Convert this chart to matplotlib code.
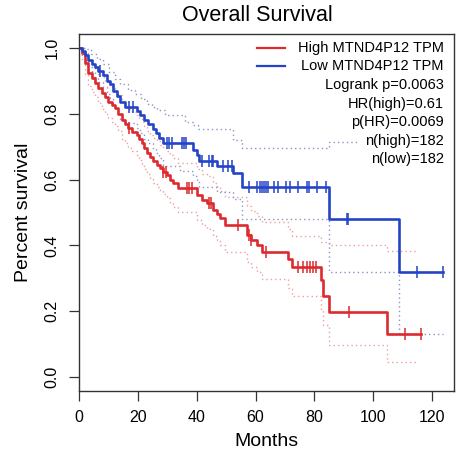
import numpy as np
import matplotlib
matplotlib.use("Agg")
import matplotlib.pyplot as plt

plt.rcParams['font.family'] = ['Liberation Sans', 'DejaVu Sans']

# ---- data ----
low_t = [0, 1.0, 2.0, 3.0, 4.2, 5.4, 6.5, 8.0, 9.3, 10.5, 11.5, 13, 14, 15.5, 19.5, 20.5, 22.0,
         23.5, 25, 26, 27, 28.6, 38.8, 40.0, 40.9, 46.8, 52.5, 55.3, 85.1, 109]
low_s = [1.0, 0.989, 0.978, 0.962, 0.951, 0.94, 0.929, 0.918, 0.90, 0.89, 0.868, 0.852, 0.835,
         0.821, 0.808, 0.795, 0.78, 0.768, 0.752, 0.74, 0.726, 0.71, 0.69, 0.674, 0.656, 0.641,
         0.621, 0.576, 0.479, 0.32]
low_end = 124
low_cens = [7, 16.9, 18.4, 29.8, 30.6, 31.5, 34.9, 35.7, 36.3, 41.7, 44.3, 45.1, 45.6, 49, 50.7,
            51.9, 57.8, 60.5, 61.5, 62.2, 62.9, 63.6, 64.3, 66.3, 67.5, 70.5, 71.7, 74.5, 77.5,
            78.3, 81, 84, 91, 91.6, 114.9, 124]

low_up_t = [0, 2, 4, 6, 8, 10, 12, 14, 16.7, 19, 21, 23, 24.6, 26.5, 29.2, 36, 38.8, 40.5, 52.4,
            55.3, 85.1]
low_up_s = [1.0, 0.995, 0.98, 0.965, 0.95, 0.925, 0.905, 0.89, 0.872, 0.86, 0.845, 0.83, 0.821,
            0.81, 0.795, 0.775, 0.765, 0.752, 0.72, 0.697, 0.715]
low_up_end = 94.5

low_lo_t = [0, 1, 2, 3, 4.2, 5.4, 6.5, 8, 9.3, 10.5, 11.5, 13, 14, 15.5, 19.5, 20.5, 22, 23.5,
            25, 26, 27, 28.6, 34.3, 38.8, 40, 40.9, 46.8, 52.5, 55.3, 85.1, 109]
low_lo_s = [1.0, 0.978, 0.962, 0.94, 0.925, 0.91, 0.895, 0.88, 0.86, 0.846, 0.822, 0.804, 0.785,
            0.77, 0.755, 0.74, 0.724, 0.71, 0.692, 0.68, 0.664, 0.64, 0.625, 0.612, 0.595,
            0.578, 0.562, 0.54, 0.479, 0.32, 0.13]
low_lo_end = 124

high_t = [0, 0.8, 1.9, 3.1, 4.2, 5.3, 6.5, 7.6, 8.8, 9.9, 11, 12.2, 13.3, 14.4, 15.6, 16.7, 18,
          19.5, 20.3, 21.2, 22.0, 22.9, 24, 25.2, 26.5, 27.5, 28.5, 29.8, 30.9, 32, 33.7, 40,
          41.7, 43.4, 45.6, 46.8, 47.9, 49.6, 57.2, 58.3, 60.4, 62.1, 71.2, 72.3, 82.2, 83.1,
          85.1, 104.9]
high_s = [1.0, 0.984, 0.953, 0.922, 0.907, 0.892, 0.877, 0.862, 0.85, 0.836, 0.826, 0.816, 0.8,
          0.78, 0.768, 0.755, 0.745, 0.735, 0.722, 0.71, 0.695, 0.68, 0.667, 0.655, 0.645,
          0.634, 0.624, 0.614, 0.6, 0.589, 0.573, 0.553, 0.538, 0.528, 0.508, 0.495, 0.482,
          0.462, 0.432, 0.417, 0.401, 0.381, 0.358, 0.334, 0.295, 0.247, 0.199, 0.131]
high_end = 116.2
high_cens = [16.8, 28.5, 29.5, 36.6, 37.5, 38.3, 44.2, 44.8, 54.1, 57.8, 58.6, 63.6, 74.6, 76.3,
             77.4, 78.5, 79.7, 80.6, 91.9, 110.9, 116.2]

high_up_t = high_t[:-6] + [71.2, 72.3, 82.2, 85.1, 104.9]
high_up_s = [1.0, 0.998, 0.985, 0.96, 0.948, 0.935, 0.92, 0.91, 0.9, 0.886, 0.878, 0.868, 0.855,
             0.838, 0.826, 0.815, 0.806, 0.797, 0.786, 0.775, 0.762, 0.748, 0.736, 0.726, 0.716,
             0.706, 0.697, 0.688, 0.675, 0.665, 0.65, 0.632, 0.618, 0.61, 0.59, 0.578, 0.566,
             0.548, 0.52, 0.505, 0.49, 0.472, 0.45, 0.43, 0.41, 0.40, 0.383]
high_up_end = 115

high_lo_t = high_t
high_lo_s = [1.0, 0.96, 0.92, 0.885, 0.866, 0.85, 0.832, 0.815, 0.8, 0.786, 0.775, 0.762, 0.746,
             0.724, 0.71, 0.697, 0.686, 0.675, 0.66, 0.648, 0.632, 0.616, 0.602, 0.59, 0.578,
             0.566, 0.555, 0.544, 0.53, 0.518, 0.5, 0.478, 0.462, 0.45, 0.43, 0.416, 0.402,
             0.38, 0.35, 0.334, 0.318, 0.297, 0.272, 0.248, 0.205, 0.16, 0.098, 0.045]
high_lo_end = 115

legend_labels = ["High MTND4P12 TPM", "Low MTND4P12 TPM"]
stats_labels = ["Logrank p=0.0063", "HR(high)=0.61", "p(HR)=0.0069", "n(high)=182", "n(low)=182"]
x_ticks = [0, 20, 40, 60, 80, 100, 120]
y_ticks = [0.0, 0.2, 0.4, 0.6, 0.8, 1.0]

RED = '#dd2a2e'
BLUE = '#2444c8'
RED_CI = '#eba0a0'
BLUE_CI = '#8c94c4'

fig = plt.figure(figsize=(4.6, 4.57), dpi=100)
ax = fig.add_axes([0.1724, 0.1451, 0.8146, 0.7805])


def step(ax, t, s, end, **kw):
    tt = list(t) + [end]
    ss = list(s) + [s[-1]]
    ax.step(tt, ss, where='post', **kw)


def surv_at(t, s, x):
    i = np.searchsorted(np.asarray(t), x, side='right') - 1
    return np.asarray(s)[i]


# confidence bands (dotted)
dots = (0, (1, 2.2))
step(ax, high_up_t, high_up_s, high_up_end, color=RED_CI, lw=1.0, ls=dots)
step(ax, high_lo_t, high_lo_s, high_lo_end, color=RED_CI, lw=1.0, ls=dots)
step(ax, low_up_t, low_up_s, low_up_end, color=BLUE_CI, lw=1.0, ls=dots)
step(ax, low_lo_t, low_lo_s, low_lo_end, color=BLUE_CI, lw=1.0, ls=dots)

# survival curves
step(ax, high_t, high_s, high_end, color=RED, lw=1.9)
step(ax, low_t, low_s, low_end, color=BLUE, lw=1.9)

# censor marks
ax.plot(high_cens, surv_at(high_t, high_s, high_cens), ls='none', marker='|',
        color=RED, ms=8, mew=1.1)
ax.plot(low_cens, surv_at(low_t, low_s, low_cens), ls='none', marker='|',
        color=BLUE, ms=8, mew=1.1)

ax.set_xlim(0, 127.6)
ax.set_ylim(-0.0407, 1.0415)
ax.set_xticks(x_ticks)
ax.set_yticks(y_ticks)
ax.set_xticklabels([str(v) for v in x_ticks], fontsize=11.5)
ax.set_yticklabels([f"{v:.1f}" for v in y_ticks], fontsize=11.5, rotation=90, va='center')
ax.tick_params(direction='out', length=7, width=0.9, color='#333333', pad=7)
for sp in ax.spines.values():
    sp.set_color('#333333')
    sp.set_linewidth(1.0)

ax.set_xlabel("Months", fontsize=14, labelpad=6)
ax.set_ylabel("Percent survival", fontsize=14, labelpad=9)
fig.text(0.559, 0.966, "Overall Survival", fontsize=15.5, ha='center', va='center')

# legend (drawn manually)
x_right = 0.973
y0 = 0.961
dy = 0.0521
rows = legend_labels + stats_labels
for i, lab in enumerate(rows):
    ax.text(x_right, y0 - i * dy, lab, transform=ax.transAxes, ha='right', va='center',
            fontsize=10.5)
for i, c in enumerate([RED, BLUE]):
    ax.plot([0.473, 0.549], [y0 - i * dy] * 2, transform=ax.transAxes, color=c, lw=1.6)

fig.savefig("out.png", dpi=100)
